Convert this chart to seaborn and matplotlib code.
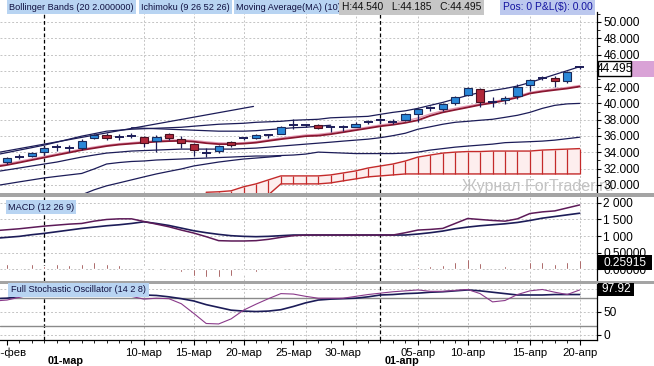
import matplotlib
matplotlib.use("Agg")
import matplotlib.pyplot as plt
import matplotlib.transforms as mtransforms
from matplotlib.patches import Rectangle
import numpy as np
import pandas as pd
import seaborn as sns

# ---------------- data ----------------
bar_index = list(range(0, 47))
opens = [32.77, 33.43, 33.50, 33.99, 34.58, 34.53, 34.51, 35.73, 36.06, 35.80, 36.00, 35.89, 35.37, 36.22, 35.61, 35.00,
         33.90, 34.11, 35.21, 35.72, 35.70, 36.12, 36.30, 37.33, 37.36, 37.32, 37.03, 37.05, 37.16, 37.70, 37.92, 37.78,
         38.01, 38.74, 39.37, 39.35, 40.00, 40.98, 41.79, 40.15, 40.37, 40.85, 42.20, 43.11, 43.13, 42.72, 44.45]
highs = [33.41, 33.78, 34.02, 34.79, 35.00, 34.88, 35.61, 36.22, 36.34, 36.22, 36.34, 36.01, 36.10, 36.34, 35.98, 35.12,
         34.48, 34.88, 35.40, 35.89, 36.30, 36.30, 37.23, 38.05, 37.52, 37.44, 37.20, 37.38, 37.68, 37.93, 38.17, 38.05,
         38.82, 39.39, 39.72, 40.00, 40.94, 41.99, 41.91, 40.77, 40.89, 42.32, 43.01, 43.33, 43.33, 43.94, 44.54]
lows = [32.56, 33.17, 33.41, 33.70, 34.15, 34.02, 34.27, 35.61, 35.55, 35.49, 35.73, 34.60, 33.99, 35.55, 34.57, 33.57,
        33.38, 33.87, 34.63, 35.52, 35.61, 35.70, 36.22, 36.83, 37.16, 36.83, 36.43, 36.59, 37.07, 37.44, 37.65, 37.52,
        37.84, 37.77, 39.06, 39.06, 39.79, 40.89, 39.55, 39.55, 39.88, 40.49, 41.50, 42.84, 41.99, 42.52, 44.185]
closes = [33.26, 33.47, 33.87, 34.48, 34.62, 34.50, 35.40, 36.06, 35.73, 35.84, 36.02, 35.16, 35.89, 35.70, 35.09, 34.27,
          33.85, 34.72, 34.88, 35.75, 36.10, 36.15, 37.16, 37.37, 37.34, 37.04, 37.05, 37.07, 37.52, 37.74, 37.95, 37.76,
          38.66, 39.27, 39.41, 39.88, 40.82, 41.83, 40.16, 40.18, 40.70, 42.04, 42.84, 43.15, 42.72, 43.82, 44.495]

line_index = list(range(-1, 47))
bb_upper = [33.66, 33.96, 34.27, 34.57, 34.88, 35.24, 35.61, 35.98, 36.28, 36.59, 36.71, 36.83, 36.89, 36.95, 37.01, 37.07,
            37.20, 37.32, 37.44, 37.50, 37.56, 37.68, 37.74, 37.80, 37.93, 37.99, 38.05, 38.23, 38.29, 38.35, 38.41, 38.66,
            38.90, 39.09, 39.39, 39.76, 40.12, 40.55, 40.98, 41.34, 41.59, 41.83, 42.13, 42.56, 43.05, 43.54, 44.02, 44.51]
bb_mid = [31.59, 31.83, 32.07, 32.32, 32.56, 32.80, 33.11, 33.41, 33.66, 33.90, 34.02, 34.15, 34.21, 34.27, 34.33, 34.39,
          34.39, 34.39, 34.39, 34.39, 34.45, 34.51, 34.63, 34.76, 34.88, 35.00, 35.12, 35.24, 35.37, 35.49, 35.61, 35.79,
          36.04, 36.34, 36.83, 37.13, 37.44, 37.68, 37.80, 37.93, 38.05, 38.29, 38.54, 38.90, 39.39, 39.76, 39.94, 40.00]
bb_lower = [29.88, 30.12, 30.37, 30.61, 30.85, 31.04, 31.22, 31.40, 31.95, 32.56, 32.74, 32.87, 32.93, 33.05, 33.11, 33.17,
            33.23, 33.29, 33.35, 33.41, 33.48, 33.54, 33.54, 33.60, 33.66, 33.78, 34.02, 33.96, 33.90, 33.84, 33.84, 33.84,
            33.84, 33.90, 34.02, 34.27, 34.45, 34.63, 34.76, 34.88, 35.00, 35.18, 35.24, 35.30, 35.37, 35.49, 35.67, 35.85]
ma10 = [32.20, 32.44, 32.74, 33.05, 33.35, 33.66, 33.96, 34.27, 34.51, 34.76, 34.94, 35.06, 35.18, 35.30, 35.37, 35.40,
        35.30, 35.12, 35.00, 35.00, 35.06, 35.18, 35.40, 35.61, 35.79, 35.98, 36.04, 36.22, 36.46, 36.71, 36.95, 37.20,
        37.38, 37.62, 37.93, 38.48, 38.90, 39.21, 39.51, 39.82, 40.06, 40.37, 40.73, 41.22, 41.46, 41.65, 41.83, 42.07]
tenkan = [32.35, 32.60, 32.90, 33.20, 33.50, 33.80, 34.10, 34.40, 34.65, 34.88, 35.05, 35.18, 35.30, 35.42, 35.50, 35.52,
          35.45, 35.28, 35.15, 35.12, 35.18, 35.30, 35.52, 35.75, 35.95, 36.12, 36.20, 36.38, 36.62, 36.86, 37.10, 37.35,
          37.55, 37.85, 38.20, 38.70, 39.10, 39.40, 39.68, 39.95, 40.20, 40.50, 40.88, 41.35, 41.60, 41.78, 41.97, 42.20]
kijun_index = list(range(10, 27))
kijun = [37.01, 36.95, 36.89, 36.83, 36.77, 36.71, 36.65, 36.59, 36.59, 36.59, 36.65, 36.77, 36.89, 37.01, 37.07, 37.20, 37.32]
lag_index = list(range(6, 23))
lag_line = [28.78, 29.39, 29.88, 30.24, 30.61, 30.98, 31.34, 31.65, 31.95, 32.32, 32.56, 32.80, 32.99, 33.17, 33.29, 33.41, 33.54]
trend_x = [-0.56, 19.8]
trend_y = [34.02, 39.63]
cloud_index = list(range(16, 47))
cloud_top = [29.09, 29.15, 29.27, 29.76, 30.12, 30.61, 31.10, 31.10, 31.10, 31.10, 31.22, 31.46, 31.71, 32.07, 32.32, 32.56,
             32.93, 33.41, 33.66, 33.90, 34.02, 34.09, 34.09, 34.15, 34.15, 34.15, 34.15, 34.27, 34.33, 34.39, 34.45]
cloud_bottom = [28.78, 28.78, 28.78, 28.78, 28.78, 28.78, 30.12, 30.12, 30.12, 30.12, 30.24, 30.49, 30.73, 30.98, 31.10, 31.22,
                31.34, 31.34, 31.34, 31.34, 31.34, 31.34, 31.34, 31.34, 31.34, 31.34, 31.34, 31.34, 31.34, 31.34, 31.34]

macd_line = [1.16, 1.19, 1.22, 1.26, 1.30, 1.33, 1.36, 1.38, 1.45, 1.50, 1.52, 1.52, 1.44, 1.36, 1.28, 1.18, 1.09, 0.98,
             0.86, 0.85, 0.85, 0.86, 0.90, 0.96, 1.01, 1.03, 1.03, 1.03, 1.03, 1.03, 1.03, 1.03, 1.03, 1.10, 1.18, 1.20,
             1.23, 1.38, 1.53, 1.50, 1.47, 1.45, 1.52, 1.68, 1.73, 1.76, 1.85, 1.94]
macd_signal = [0.93, 0.96, 0.99, 1.04, 1.08, 1.13, 1.18, 1.23, 1.27, 1.31, 1.34, 1.38, 1.43, 1.38, 1.32, 1.24, 1.16, 1.10,
               1.05, 1.01, 0.99, 0.98, 0.99, 1.01, 1.03, 1.03, 1.03, 1.03, 1.03, 1.03, 1.03, 1.03, 1.03, 1.03, 1.06, 1.10,
               1.15, 1.22, 1.27, 1.31, 1.34, 1.37, 1.41, 1.47, 1.54, 1.59, 1.64, 1.69]
macd_hist = [0.15, 0.15, 0.14, 0.10, 0.15, 0.12, 0.15, 0.20, 0.16, 0.12, 0.12, 0.02, -0.03, -0.03, -0.08, -0.20, -0.25,
             -0.25, -0.20, -0.12, -0.08, -0.06, -0.02, 0.02, 0.02, 0.01, 0.02, 0.01, 0.01, 0.01, 0.00, 0.01, 0.04, 0.06,
             0.10, 0.12, 0.20, 0.30, 0.18, 0.12, 0.10, 0.12, 0.20, 0.22, 0.16, 0.22, 0.26]

stoch_k = [74, 76, 82, 88, 90, 91, 92, 93, 93, 92, 90, 84, 78, 80, 79, 68, 47, 25, 24, 35, 54, 67, 79, 90, 89, 84, 80, 80,
           80, 84, 88, 91, 94, 96, 98, 95, 95, 97, 99, 90, 72, 75, 88, 96, 99, 93, 88, 98]
stoch_d = [79, 80, 84, 87, 89, 90, 91, 92, 92, 91, 90, 88, 87, 86, 83, 79, 74, 66, 60, 54, 52, 51, 52, 55, 62, 70, 76, 78,
           79, 80, 83, 87, 88, 90, 91, 93, 94, 96, 98, 96, 93, 90, 87, 87, 87, 88, 88, 88]

xtick_pos = [0.0, 11, 15, 19, 23, 27, 33, 37, 42, 46]
xtick_labels = ["25-фев", "10-мар", "15-мар", "20-мар", "25-мар", "30-мар", "05-апр", "10-апр", "15-апр", "20-апр"]
xgrid_pos = [11, 15, 19, 24, 28, 33, 37, 42, 46]
month_pos = [3, 30]
month_labels = ["01-мар", "01-апр"]
price_ticks = [30, 32, 34, 36, 38, 40, 42, 44, 46, 48, 50]
price_tick_labels = ["30.000", "32.000", "34.000", "36.000", "38.000", "40.000", "42.000", "", "46.000", "48.000", "50.000"]
macd_ticks = [0.0, 0.5, 1.0, 1.5, 2.0]
macd_tick_labels = ["0.00000", "0.50000", "1 000", "1 500", "2 000"]
stoch_ticks = [0, 50, 100]
stoch_tick_labels = ["0", "50", ""]
last_price_label = "44.495"
last_hist_label = "0.25915"
last_stoch_label = "97.92"

# ---------------- style ----------------
sns.set_theme(style="white")
plt.rcParams["font.family"] = ["Liberation Sans", "DejaVu Sans"]

W, H = 654, 366
fig = plt.figure(figsize=(W / 100, H / 100), dpi=100, facecolor="white")


def prect(x0, y0, x1, y1):
    return [x0 / W, 1 - y1 / H, (x1 - x0) / W, (y1 - y0) / H]


def add_px_rect(x0, y0, x1, y1, **kw):
    r = Rectangle((x0 / W, 1 - y1 / H), (x1 - x0) / W, (y1 - y0) / H, transform=fig.transFigure, **kw)
    fig.add_artist(r)
    return r


ax_p = fig.add_axes(prect(0, 12, 597, 193))
ax_m = fig.add_axes(prect(0, 197, 597, 281))
ax_s = fig.add_axes(prect(0, 284, 597, 340))

XLIM = (-0.562, 47.39)
GRID = "#c4c4c4"
NAVY = "#1c1c58"
MAROON = "#8a1630"
PINK = "#e59ab4"
RED = "#c42a2a"

for ax in (ax_p, ax_m, ax_s):
    ax.set_xlim(*XLIM)
    ax.patch.set_alpha(0)
    for s in ("left", "top", "bottom"):
        ax.spines[s].set_visible(False)
    ax.spines["right"].set_visible(True)
    ax.spines["right"].set_color("black")
    ax.spines["right"].set_linewidth(0.9)
    ax.yaxis.tick_right()
    ax.tick_params(axis="y", which="major", direction="out", right=True, length=3, width=0.8, color="black",
                   labelsize=8.6, pad=1.5, labelcolor="black")
    ax.tick_params(axis="x", which="both", bottom=False, labelbottom=False)
    ax.grid(False)
    for gx in xgrid_pos:
        ax.axvline(gx, color=GRID, lw=0.7, ls=(0, (2, 2)), zorder=0)
    for mx in month_pos:
        ax.axvline(mx, color="black", lw=0.9, ls=(0, (3, 2)), zorder=1)

# ---------------- price panel ----------------
ax_p.set_ylim(29.15, 51.22)
ax_p.set_yticks(price_ticks, price_tick_labels)
ax_p.set_yticks(np.arange(29, 52, 1.0), minor=True)
ax_p.tick_params(axis="y", which="minor", direction="out", right=True, length=1.8, width=0.6, color="black")
for v in price_ticks:
    ax_p.axhline(v, color=GRID, lw=0.7, ls=(0, (2, 2)), zorder=0)

# Ichimoku cloud
ax_p.fill_between(cloud_index, cloud_bottom, cloud_top, color="#fdeeee", lw=0, zorder=1)
ax_p.vlines(cloud_index, cloud_bottom, cloud_top, color=RED, lw=0.9, zorder=2)
sns.lineplot(x=cloud_index, y=cloud_top, ax=ax_p, color=RED, lw=1.0, estimator=None, sort=False, legend=False, zorder=2)
sns.lineplot(x=cloud_index, y=cloud_bottom, ax=ax_p, color=RED, lw=1.0, estimator=None, sort=False, legend=False, zorder=2)

# indicator lines
for ys in (bb_upper, bb_mid, bb_lower):
    sns.lineplot(x=line_index, y=ys, ax=ax_p, color=NAVY, lw=0.9, estimator=None, sort=False, legend=False, zorder=3)
sns.lineplot(x=kijun_index, y=kijun, ax=ax_p, color=NAVY, lw=0.9, estimator=None, sort=False, legend=False, zorder=3)
sns.lineplot(x=lag_index, y=lag_line, ax=ax_p, color=NAVY, lw=0.9, estimator=None, sort=False, legend=False, zorder=3)
sns.lineplot(x=trend_x, y=trend_y, ax=ax_p, color=NAVY, lw=0.9, estimator=None, sort=False, legend=False, zorder=3)
sns.lineplot(x=line_index, y=tenkan, ax=ax_p, color=PINK, lw=1.0, estimator=None, sort=False, legend=False, zorder=3)
sns.lineplot(x=line_index, y=ma10, ax=ax_p, color=MAROON, lw=1.3, estimator=None, sort=False, legend=False, zorder=3)

# candles
df = pd.DataFrame(dict(i=bar_index, o=opens, h=highs, l=lows, c=closes))
df["lo"] = np.minimum(df.o, df.c)
df["bh"] = (df.c - df.o).abs()
doji = df.bh < 0.06
up = (df.c >= df.o) & ~doji
dn = (df.c < df.o) & ~doji
ax_p.vlines(df.i, df.l, df.h, color=NAVY, lw=0.9, zorder=4)
ax_p.bar(df.i[up], df.bh[up], bottom=df.lo[up], width=0.66, color="#2a88d8", edgecolor="#1a2a5a", lw=0.8, zorder=5)
ax_p.bar(df.i[dn], df.bh[dn], bottom=df.lo[dn], width=0.66, color="#b0283a", edgecolor="#4a1020", lw=0.8, zorder=5)
ax_p.hlines(df.c[doji], df.i[doji] - 0.36, df.i[doji] + 0.36, color=NAVY, lw=1.4, zorder=5)
ax_p.set_xlabel("")
ax_p.set_ylabel("")

# ---------------- MACD panel ----------------
ax_m.set_ylim(-0.36, 2.18)
ax_m.set_yticks(macd_ticks, macd_tick_labels)
for v in macd_ticks:
    ax_m.axhline(v, color=GRID, lw=0.7, ls=(0, (2, 2)), zorder=0)
ax_m.bar(bar_index, macd_hist, width=0.15, color="#7a1212", zorder=3)
sns.lineplot(x=line_index, y=macd_signal, ax=ax_m, color=NAVY, lw=1.2, estimator=None, sort=False, legend=False, zorder=4)
sns.lineplot(x=line_index, y=macd_line, ax=ax_m, color="#5c1a58", lw=1.1, estimator=None, sort=False, legend=False, zorder=4)
ax_m.set_xlabel("")
ax_m.set_ylabel("")

# ---------------- Stochastic panel ----------------
ax_s.set_ylim(-10.9, 110.9)
ax_s.set_yticks(stoch_ticks, stoch_tick_labels)
for v in stoch_ticks:
    ax_s.axhline(v, color=GRID, lw=0.7, ls=(0, (2, 2)), zorder=0)
ax_s.axhline(80, color="#8a8a8a", lw=1.0, zorder=1)
ax_s.axhline(20, color="#8a8a8a", lw=1.0, zorder=1)
sns.lineplot(x=line_index, y=stoch_d, ax=ax_s, color=NAVY, lw=1.2, estimator=None, sort=False, legend=False, zorder=3)
sns.lineplot(x=line_index, y=stoch_k, ax=ax_s, color="#8a3a8a", lw=0.8, estimator=None, sort=False, legend=False, zorder=3)
ax_s.set_xlabel("")
ax_s.set_ylabel("")
ax_s.spines["bottom"].set_visible(True)
ax_s.spines["bottom"].set_color("black")
ax_s.spines["bottom"].set_linewidth(0.9)
ax_s.set_xticks(xtick_pos, xtick_labels)
ax_s.set_xticks(bar_index, minor=True)
ax_s.tick_params(axis="x", which="major", bottom=True, labelbottom=True, length=3.5, width=0.8, color="black",
                 labelsize=8.2, pad=2.0, labelcolor="black")
ax_s.tick_params(axis="x", which="minor", bottom=True, length=2, width=0.6, color="black")
tr = mtransforms.blended_transform_factory(ax_s.transData, ax_s.transAxes)
for mx, ml in zip(month_pos, month_labels):
    ax_s.text(mx + 0.3, -0.37, ml, transform=tr, ha="left", va="center", fontsize=7.8, fontweight="bold", color="black")

# ---------------- decorations ----------------
add_px_rect(0, 193, W, 196.5, color="#a4a4a4", lw=0, zorder=5)
add_px_rect(0, 281, W, 284, color="#a4a4a4", lw=0, zorder=5)

fig.text(462 / W, 1 - 187 / H, "Журнал ForTrader.ru", color="#c2c2c2", fontsize=11.5, ha="left", va="center", zorder=-1)

# price marker
add_px_rect(630, 61, W, 77, color="#d9a2d6", lw=0, zorder=6)
add_px_rect(598, 61, 631, 76, facecolor="white", edgecolor="black", lw=1.0, zorder=7)
fig.text(614.5 / W, 1 - 68.5 / H, last_price_label, fontsize=8.6, ha="center", va="center", color="black", zorder=8)
add_px_rect(598, 255, 652, 270, color="black", lw=0, zorder=7)
fig.text(625 / W, 1 - 262.5 / H, last_hist_label, fontsize=8.6, ha="center", va="center", color="white", zorder=8)
add_px_rect(598, 283, 634, 296, color="black", lw=0, zorder=7)
fig.text(616 / W, 1 - 289.5 / H, last_stoch_label, fontsize=8.6, ha="center", va="center", color="white", zorder=8)

# legend/header boxes
LBL = "#b8d4f2"
hdr = dict(fontsize=6.6, ha="left", va="center", zorder=9)
fig.text(9 / W, 1 - 7 / H, "Bollinger Bands (20 2.000000)", color="#101040",
         bbox=dict(boxstyle="square,pad=0.25", fc=LBL, ec="none"), **hdr)
fig.text(141 / W, 1 - 7 / H, "Ichimoku (9 26 52 26)", color="#101040",
         bbox=dict(boxstyle="square,pad=0.25", fc=LBL, ec="none"), **hdr)
fig.text(236 / W, 1 - 7 / H, "Moving Average(MA) (10)", color="#101040",
         bbox=dict(boxstyle="square,pad=0.25", fc=LBL, ec="none"), **hdr)
fig.text(342 / W, 1 - 7 / H, "H:44.540   L:44.185   C:44.495", color="#101010",
         bbox=dict(boxstyle="square,pad=0.25", fc="#c6c6c6", ec="none"), fontsize=7.4, ha="left", va="center", zorder=9)
fig.text(503 / W, 1 - 7 / H, "Pos: 0 P&L($): 0.00", color="#1414a0",
         bbox=dict(boxstyle="square,pad=0.25", fc="#bcc8ee", ec="none"), fontsize=7.4, ha="left", va="center", zorder=9)
fig.text(8 / W, 1 - 207 / H, "MACD (12 26 9)", color="#101040",
         bbox=dict(boxstyle="square,pad=0.25", fc=LBL, ec="none"), **hdr)
fig.text(11 / W, 1 - 290 / H, "Full Stochastic Oscillator (14 2 8)", color="#101040",
         bbox=dict(boxstyle="square,pad=0.3", fc=LBL, ec="none"), **hdr)

fig.savefig("out.png", dpi=100, facecolor="white")
